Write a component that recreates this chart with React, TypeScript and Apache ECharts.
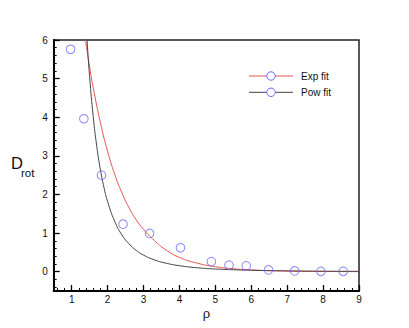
import React, { useEffect, useRef } from "react";
import * as echarts from "echarts";

// Measured data points (rho, D_rot)
const rhoData = [0.97, 1.34, 1.83, 2.43, 3.17, 4.03, 4.89, 5.38, 5.86, 6.48, 7.21, 7.94, 8.56];
const dData = [5.76, 3.96, 2.5, 1.23, 0.99, 0.62, 0.26, 0.17, 0.15, 0.045, 0.02, 0.01, 0.01];

// Exp fit curve
const expRho = [1.35, 1.4, 1.5, 1.6, 1.8, 2.0, 2.2, 2.4, 2.6, 2.8, 3.0, 3.3, 3.6, 4.0, 4.5, 5.0, 5.5, 6.0, 7.0, 8.0, 9.0];
const expD = [6.21, 5.9, 5.3, 4.77, 3.86, 3.12, 2.52, 2.04, 1.65, 1.34, 1.1, 0.81, 0.58, 0.37, 0.22, 0.13, 0.076, 0.045, 0.016, 0.006, 0.002];

// Pow fit curve
const powRho = [1.4, 1.43, 1.5, 1.6, 1.7, 1.8, 1.9, 2.0, 2.2, 2.4, 2.6, 2.8, 3.0, 3.3, 3.6, 4.0, 4.5, 5.0, 6.0, 7.0, 8.0, 9.0];
const powD = [6.45, 5.98, 5.05, 4.02, 3.24, 2.64, 2.18, 1.82, 1.3, 0.95, 0.72, 0.55, 0.43, 0.307, 0.226, 0.155, 0.102, 0.07, 0.037, 0.021, 0.013, 0.009];

const xMajor = [1, 2, 3, 4, 5, 6, 7, 8, 9];
const yMajor = [0, 1, 2, 3, 4, 5, 6];

const legendNames = ["Exp fit", "Pow fit"];
const legendColors = ["#e85454", "#444444"];
const markerColor = "#6a6aff";

const minorTicks = (lo: number, hi: number, step: number) => {
  const out: number[] = [];
  const n = Math.round((hi - lo) / step);
  for (let i = 0; i <= n; i++) {
    const v = Math.round((lo + i * step) * 100) / 100;
    if (Math.abs(v - Math.round(v)) > 1e-6) out.push(v);
  }
  return out;
};

export default function App() {
  const ref = useRef<HTMLDivElement>(null);
  useEffect(() => {
    if (!ref.current) return;
    const chart = echarts.init(ref.current, undefined, { renderer: "svg" });
    const font = "'Liberation Sans', Arial, Helvetica, sans-serif";
    const xMinor = minorTicks(0.6, 8.8, 0.2);
    const yMinor = minorTicks(-0.4, 5.8, 0.2);
    const left = 53.7, right = 359, top = 40, bottom = 291;

    const legendGraphics: any[] = [];
    legendNames.forEach((name, i) => {
      const y = 76 + i * 16.3;
      legendGraphics.push(
        { type: "line", shape: { x1: 249, y1: y, x2: 293, y2: y }, style: { stroke: legendColors[i], lineWidth: 1 } },
        { type: "circle", shape: { cx: 271, cy: y, r: 4.2 }, style: { fill: "#fff", stroke: markerColor, lineWidth: 1 } },
        { type: "text", x: 301, y: y, style: { text: name, fontSize: 10, fontFamily: font, fill: "#111", verticalAlign: "middle" } }
      );
    });

    chart.setOption({
      animation: false,
      grid: {
        left: left, top: top, width: right - left, height: bottom - top,
        show: true, borderColor: "#222", borderWidth: 1.5, backgroundColor: "transparent",
      },
      xAxis: [
        {
          type: "value", min: 0.5, max: 9, position: "bottom",
          axisLine: { show: true, onZero: false, lineStyle: { color: "#000", width: 2 } },
          axisTick: { show: true, inside: true, length: 6, customValues: xMajor, lineStyle: { color: "#000", width: 1.3 } },
          axisLabel: { show: true, customValues: xMajor, fontSize: 10, fontFamily: font, color: "#111", margin: 3 },
          splitLine: { show: false },
        },
        {
          type: "value", min: 0.5, max: 9, position: "bottom", offset: 0,
          axisLine: { show: false, onZero: false },
          axisTick: { show: true, inside: true, length: 3, customValues: xMinor, lineStyle: { color: "#000", width: 1 } },
          axisLabel: { show: false },
          splitLine: { show: false },
        },
      ],
      yAxis: [
        {
          type: "value", min: -0.5, max: 6, position: "left",
          axisLine: { show: true, onZero: false, lineStyle: { color: "#000", width: 2 } },
          axisTick: { show: true, inside: true, length: 6, customValues: yMajor, lineStyle: { color: "#000", width: 1.3 } },
          axisLabel: { show: true, customValues: yMajor, fontSize: 10, fontFamily: font, color: "#111", margin: 6 },
          splitLine: { show: false },
        },
        {
          type: "value", min: -0.5, max: 6, position: "left", offset: 0,
          axisLine: { show: false, onZero: false },
          axisTick: { show: true, inside: true, length: 3, customValues: yMinor, lineStyle: { color: "#000", width: 1 } },
          axisLabel: { show: false },
          splitLine: { show: false },
        },
      ],
      series: [
        {
          name: "Exp fit", type: "line", xAxisIndex: 0, yAxisIndex: 0, smooth: true, showSymbol: false, clip: true,
          data: expRho.map((r, i) => [r, expD[i]]),
          lineStyle: { color: legendColors[0], width: 1 },
        },
        {
          name: "Pow fit", type: "line", xAxisIndex: 0, yAxisIndex: 0, smooth: true, showSymbol: false, clip: true,
          data: powRho.map((r, i) => [r, powD[i]]),
          lineStyle: { color: legendColors[1], width: 1 },
        },
        {
          name: "data", type: "scatter", xAxisIndex: 0, yAxisIndex: 0,
          symbol: "circle", symbolSize: 8.6,
          data: rhoData.map((r, i) => [r, dData[i]]),
          itemStyle: { color: "rgba(255,255,255,0)", borderColor: markerColor, borderWidth: 1 },
          z: 5,
        },
      ],
      graphic: [
        ...legendGraphics,
        { type: "text", x: 11, y: 154.5, style: { text: "D", fontSize: 16.5, fontFamily: font, fill: "#111" } },
        { type: "text", x: 21, y: 167, style: { text: "rot", fontSize: 11.5, fontFamily: font, fill: "#111" } },
        { type: "text", x: 206.5, y: 313, style: { text: "ρ", fontSize: 13, fontFamily: font, fill: "#111", align: "center", verticalAlign: "middle" } },
      ],
    });
    return () => chart.dispose();
  }, []);
  return <div ref={ref} style={{ position: "absolute", left: 0, top: 0, width: 409, height: 328 }} />;
}
